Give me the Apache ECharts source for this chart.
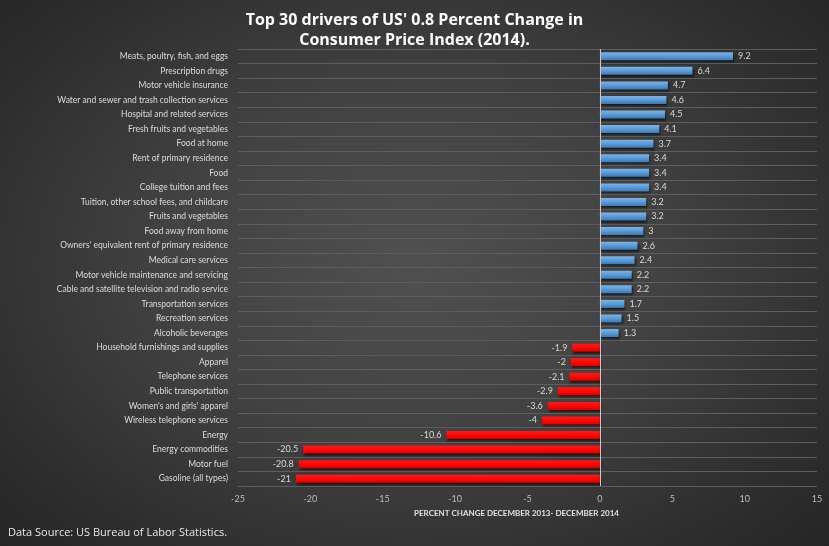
<!DOCTYPE html>
<html>
<head>
<meta charset="utf-8">
<script src="https://cdn.jsdelivr.net/npm/echarts@6/dist/echarts.min.js"></script>
<style>
html,body{margin:0;padding:0;}
#c{width:829px;height:546px;background:radial-gradient(ellipse 75% 80% at 50% 48%, #505050 0%, #424242 40%, #2e2e2e 75%, #222222 100%);}
</style>
</head>
<body>
<div id="c"></div>
<script>
var categories = [
  "Meats, poultry, fish, and eggs",
  "Prescription drugs",
  "Motor vehicle insurance",
  "Water and sewer and trash collection services",
  "Hospital and related services",
  "Fresh fruits and vegetables",
  "Food at home",
  "Rent of primary residence",
  "Food",
  "College tuition and fees",
  "Tuition, other school fees, and childcare",
  "Fruits and vegetables",
  "Food away from home",
  "Owners' equivalent rent of primary residence",
  "Medical care services",
  "Motor vehicle maintenance and servicing",
  "Cable and satellite television and radio service",
  "Transportation services",
  "Recreation services",
  "Alcoholic beverages",
  "Household furnishings and supplies",
  "Apparel",
  "Telephone services",
  "Public transportation",
  "Women's and girls' apparel",
  "Wireless telephone services",
  "Energy",
  "Energy commodities",
  "Motor fuel",
  "Gasoline (all types)"
];
var values = [9.2, 6.4, 4.7, 4.6, 4.5, 4.1, 3.7, 3.4, 3.4, 3.4, 3.2, 3.2, 3, 2.6, 2.4, 2.2, 2.2, 1.7, 1.5, 1.3,
  -1.9, -2, -2.1, -2.9, -3.6, -4, -10.6, -20.5, -20.8, -21];
var titleLines = ["Top 30 drivers of US' 0.8 Percent Change in", "Consumer Price Index (2014)."];
var xAxisName = "PERCENT CHANGE DECEMBER 2013- DECEMBER 2014";
var sourceText = "Data Source: US Bureau of Labor Statistics.";

var blue = {type:'linear', x:0, y:0, x2:0, y2:1, colorStops:[{offset:0,color:'#7db3e8'},{offset:0.5,color:'#5b9bd5'},{offset:1,color:'#3b78bb'}]};
var red = {type:'linear', x:0, y:0, x2:0, y2:1, colorStops:[{offset:0,color:'#ff1a1a'},{offset:0.7,color:'#ff0000'},{offset:1,color:'#d80000'}]};

var chart = echarts.init(document.getElementById('c'), null, {renderer:'canvas'});
chart.setOption({
  backgroundColor: 'transparent',
  animation: false,
  title: {
    text: titleLines.join('\n'),
    left: 'center',
    top: 5,
    textStyle: {color:'#ffffff', fontFamily:'Open Sans', fontWeight:'bold', fontSize:16, lineHeight:20}
  },
  graphic: [{
    type:'text', left: 8, top: 527,
    style: {text: sourceText, fill:'#e8e8e8', font: '11px "Open Sans"'}
  }],
  grid: {left: 238, right: 12, top: 49, bottom: 60, containLabel: false},
  xAxis: {
    type: 'value', min: -25, max: 15, interval: 5,
    name: xAxisName, nameLocation: 'middle', nameGap: 23,
    nameTextStyle: {color:'#e0e0e0', fontFamily:'Lato', fontSize:8, fontWeight:'bold', padding:[0,22,0,0]},
    axisLine: {show:false}, axisTick: {show:false},
    splitLine: {show:false},
    axisLabel: {color:'#bdbdbd', fontFamily:'Lato', fontSize:9, margin:9}
  },
  yAxis: {
    type: 'category', data: categories, inverse: true,
    axisLine: {show:false}, axisTick: {show:false},
    splitLine: {show:true, lineStyle:{color:'#5e5e5e', width:1}},
    axisLabel: {color:'#dcdcdc', fontFamily:'Lato', fontSize:8.5, margin:10}
  },
  series: [{
    type: 'bar',
    data: values.map(function(v){
      return {
        value: v,
        itemStyle: {color: v >= 0 ? blue : red},
        label: {position: v >= 0 ? 'right' : 'left'}
      };
    }),
    barWidth: 8,
    itemStyle: {shadowColor:'rgba(0,0,0,0.6)', shadowBlur:2, shadowOffsetX:1, shadowOffsetY:2},
    label: {show:true, color:'#d9d9d9', fontFamily:'Lato', fontSize:9, distance:5},
    markLine: {
      silent: true, symbol: 'none', label:{show:false},
      lineStyle: {color:'#c8c8c8', type:'solid', width:1},
      data: [{xAxis: 0}]
    }
  }]
});
</script>
</body>
</html>
